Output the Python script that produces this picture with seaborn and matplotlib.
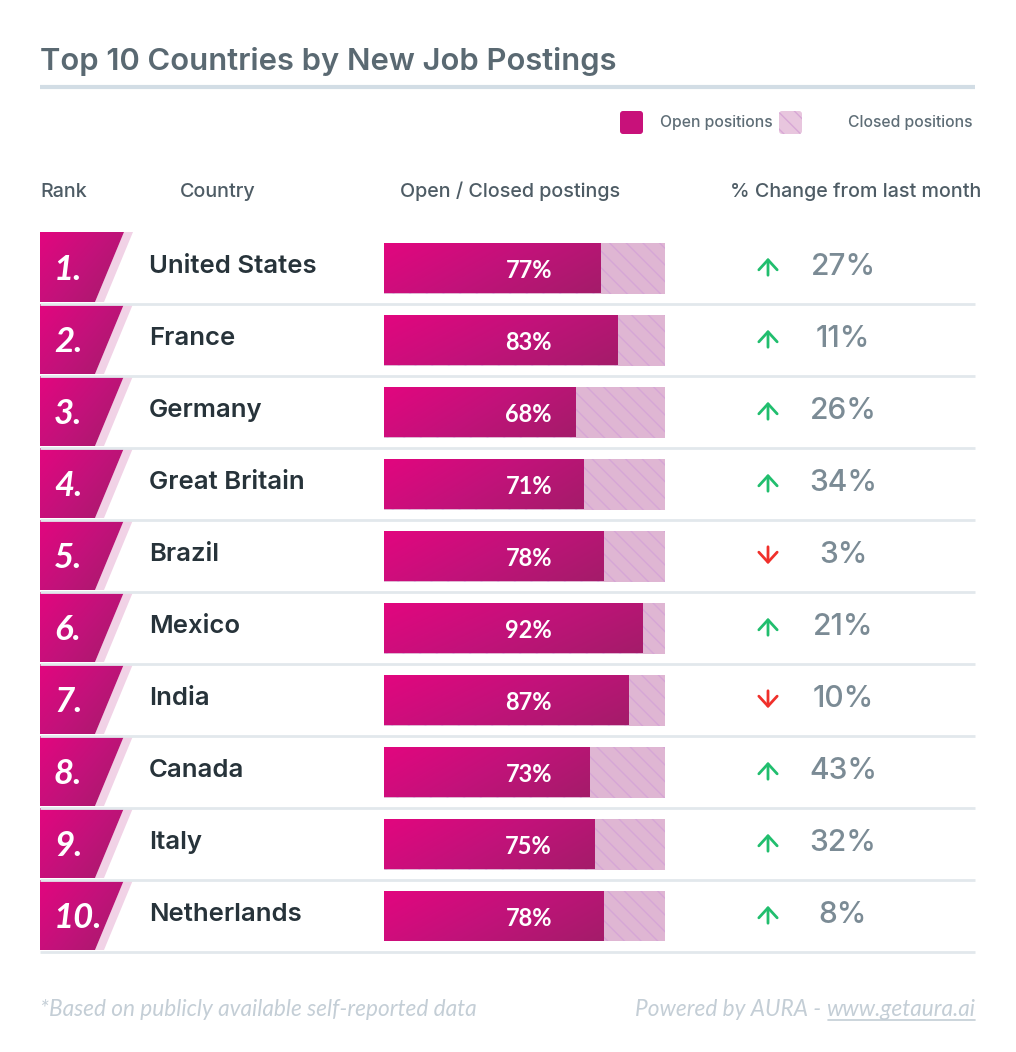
import numpy as np
import pandas as pd
import matplotlib
matplotlib.use('Agg')
import matplotlib.pyplot as plt
import seaborn as sns
from matplotlib.patches import Polygon, FancyBboxPatch
from matplotlib.colors import LinearSegmentedColormap

# Data
countries = ['United States', 'France', 'Germany', 'Great Britain', 'Brazil',
             'Mexico', 'India', 'Canada', 'Italy', 'Netherlands']
open_pct = [77, 83, 68, 71, 78, 92, 87, 73, 75, 78]
closed_pct = [100 - v for v in open_pct]
change_pct = [27, 11, 26, 34, -3, 21, -10, 43, 32, 8]
ranks = [f'{i}.' for i in range(1, 11)]

df = pd.DataFrame({'country': countries, 'open': open_pct, 'closed': closed_pct})
df['total'] = df['open'] + df['closed']

sns.set_theme(style='white')
plt.rcParams['font.family'] = ['Inter', 'DejaVu Sans']
plt.rcParams['hatch.linewidth'] = 1.0
lato = ['Lato', 'DejaVu Sans']

W, H = 1016, 1052
fig = plt.figure(figsize=(W / 100, H / 100), dpi=100)
fig.patch.set_facecolor('white')

# background axes in pixel coordinates
ax0 = fig.add_axes([0, 0, 1, 1])
ax0.set_xlim(0, W)
ax0.set_ylim(H, 0)
ax0.axis('off')

magenta = LinearSegmentedColormap.from_list('mag', ['#E2067F', '#C2127A', '#A41C6A'])

title_col = '#5A6972'
head_col = '#4E5C65'
name_col = '#27333A'
chg_col = '#7B8B95'
foot_col = '#C4CED6'

# title + underline
ax0.text(40, 70, 'Top 10 Countries by New Job Postings', fontsize=22.3, fontweight='semibold',
         color=title_col, va='baseline', ha='left')
ax0.plot([40, 975], [86.5, 86.5], color='#D2DDE5', lw=3, solid_capstyle='butt')

# legend
leg1 = FancyBboxPatch((620, 111), 23, 23, boxstyle='round,pad=0,rounding_size=3',
                      facecolor='#C8117A', edgecolor='none')
ax0.add_patch(leg1)
ax0.text(660, 127.5, 'Open positions', fontsize=11.3, color='#5E6D76', va='baseline', fontweight='medium')
leg2 = FancyBboxPatch((779, 111), 23, 23, boxstyle='round,pad=0,rounding_size=3',
                      facecolor='#E8C6DE', edgecolor='#D8A8D6', lw=0, hatch='\\\\')
ax0.add_patch(leg2)
ax0.text(848, 127.5, 'Closed positions', fontsize=11.3, color='#5E6D76', va='baseline', fontweight='medium')

# column headers
for hx, label in [(40, 'Rank'), (180, 'Country'), (400, 'Open / Closed postings'),
                  (730, '% Change from last month')]:
    ax0.text(hx, 197, label, fontsize=14.2, color=head_col, va='baseline', ha='left', fontweight='medium')

row_top, row_h = 232, 72
grad = np.linspace(0, 1, 64)
gx, gy = np.meshgrid(grad, grad)

for i, (rank, name, chg) in enumerate(zip(ranks, countries, change_pct)):
    top = row_top + i * row_h
    bot = top + 70
    cy = top + 35
    # rank box with light stripe
    stripe = Polygon([(124, top), (133, top), (104, bot), (95, bot)], closed=True,
                     facecolor='#F1D2E6', edgecolor='none')
    ax0.add_patch(stripe)
    box = Polygon([(40, top), (124, top), (95, bot), (40, bot)], closed=True,
                  facecolor='none', edgecolor='none')
    ax0.add_patch(box)
    im = ax0.imshow(0.6 * gx + 0.4 * gy, cmap=magenta, extent=(40, 125, bot, top),
                    origin='upper', aspect='auto', zorder=1)
    im.set_clip_path(box)
    ax0.text(54, cy + 13, rank, fontsize=25, fontweight='bold', style='italic',
             color='white', va='baseline', ha='left', zorder=3, family=lato)
    # country
    ax0.text(149, cy + 6, name, fontsize=18.5, fontweight='semibold', color=name_col,
             va='baseline', ha='left')
    # separator
    ax0.plot([40, 975], [bot + 1.5, bot + 1.5], color='#E2E8EC', lw=2, solid_capstyle='butt')
    # change arrow + value
    if chg >= 0:
        ax0.annotate('', xy=(768, cy - 12), xytext=(768, cy + 11),
                     arrowprops=dict(arrowstyle='->,head_length=0.6,head_width=0.55',
                                     color='#21BE6E', lw=2))
    else:
        ax0.annotate('', xy=(768, cy + 12), xytext=(768, cy - 11),
                     arrowprops=dict(arrowstyle='->,head_length=0.6,head_width=0.55',
                                     color='#F0302B', lw=2))
    ax0.text(843, cy + 8, f'{abs(chg)}%', fontsize=21.5, fontweight='medium', color=chg_col,
             va='baseline', ha='center')

ax0.set_xlim(0, W)
ax0.set_ylim(H, 0)

# footer
ax0.text(40, 1016, '*Based on publicly available self-reported data', fontsize=16.3,
         style='italic', color=foot_col, va='baseline', ha='left', family=lato)
url = ax0.text(975, 1016, 'www.getaura.ai', fontsize=16.3, style='italic',
               color=foot_col, va='baseline', ha='right', family=lato)

# bars axes
bx0, bx1 = 384, 665
ax_b = fig.add_axes([bx0 / W, 1 - (row_top + 10 * row_h) / H, (bx1 - bx0) / W, 10 * row_h / H])
ax_b.set_facecolor('none')
sns.barplot(data=df, y='country', x='total', orient='h', color='#DFB6D3', saturation=1,
            width=51 / 72, ax=ax_b, hatch='\\\\', edgecolor='#D6A6D6', linewidth=0)
sns.barplot(data=df, y='country', x='open', orient='h', color='#C8117A', saturation=1,
            width=51 / 72, ax=ax_b, linewidth=0)
ax_b.set_xlim(0, 100)
ax_b.set_ylim(9.5, -0.5)

patches = list(ax_b.patches)
for p in patches[len(countries):]:
    x0, y0 = p.get_x(), p.get_y()
    w, h = p.get_width(), p.get_height()
    p.set_facecolor('none')
    im = ax_b.imshow(0.7 * gx + 0.3 * gy, cmap=magenta, extent=(x0, x0 + w, y0 + h, y0),
                     origin='upper', aspect='auto', zorder=2)
    im.set_clip_path(p)

for i, v in enumerate(open_pct):
    ax_b.text(51.5, i + 0.035, f'{v}%', fontsize=17, fontweight='bold', color='white',
              ha='center', va='center', zorder=4, family=lato)

ax_b.set_xlim(0, 100)
ax_b.set_ylim(9.5, -0.5)
ax_b.axis('off')

# underline url and prefix text
fig.canvas.draw()
r = fig.canvas.get_renderer()
bb = url.get_window_extent(r).transformed(ax0.transData.inverted())
ux0, ux1 = min(bb.x0, bb.x1), max(bb.x0, bb.x1)
ax0.plot([ux0 + 2, ux1], [1019.5, 1019.5], color=foot_col, lw=1.2)
ax0.text(ux0 - 5, 1016, 'Powered by AURA -', fontsize=16.3, style='italic',
         color=foot_col, va='baseline', ha='right', family=lato)

fig.savefig('out.png', dpi=100, facecolor='white')
